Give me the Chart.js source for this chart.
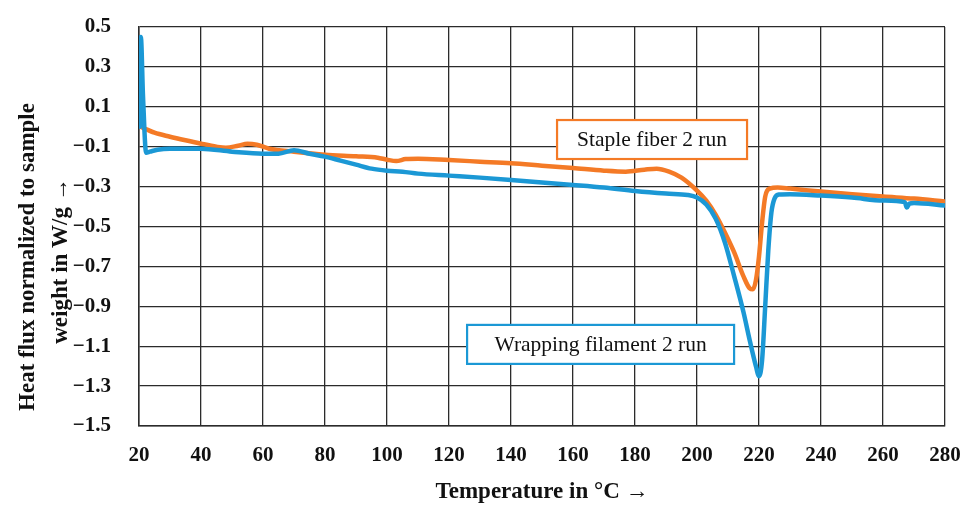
<!DOCTYPE html>
<html>
<head>
<meta charset="utf-8">
<script src="https://cdn.jsdelivr.net/npm/chart.js@4.4.1/dist/chart.umd.min.js"></script>
<style>
  html, body { margin: 0; padding: 0; background: #fff; }
  #wrap { width: 970px; height: 507px; position: relative; }
</style>
</head>
<body>
<div id="wrap"><canvas id="dscChart"></canvas></div>
<script>
// DSC second heating run, heat flux in W/g over temperature in °C
const tempWrapping = [20.3, 20.6, 21.3, 22.3, 23.5, 26, 30, 40, 50, 60, 65, 70, 75, 80, 85, 90, 95, 100, 105, 110,
  120, 130, 140, 150, 160, 170, 180, 190, 197, 200, 203, 206, 209, 212, 215, 217, 219, 220, 221, 222, 223, 224,
  225, 226.5, 230, 240, 250, 260, 267, 267.7, 268.5, 270, 280];
const fluxWrapping = [0.0, 0.45, 0.15, -0.13, -0.125, -0.115, -0.11, -0.11, -0.125, -0.135, -0.135, -0.118, -0.135,
  -0.15, -0.17, -0.19, -0.21, -0.22, -0.225, -0.235, -0.245, -0.255, -0.267, -0.28, -0.292, -0.305, -0.322, -0.335,
  -0.342, -0.355, -0.39, -0.46, -0.58, -0.75, -0.93, -1.07, -1.2, -1.25, -1.17, -0.9, -0.62, -0.43, -0.36, -0.34,
  -0.338, -0.345, -0.355, -0.37, -0.378, -0.405, -0.385, -0.382, -0.395];

const tempStaple = [20.5, 22, 25, 30, 35, 40, 45, 48, 52, 55, 58, 62, 70, 80, 90, 97, 100, 103, 106, 110, 120, 130,
  140, 150, 160, 170, 177, 183, 187, 191, 195, 200, 203, 206, 209, 212, 215, 217, 218, 219, 220, 221, 222, 223.5,
  226, 230, 240, 250, 260, 270, 280];
const fluxStaple = [0.0, -0.01, -0.03, -0.05, -0.068, -0.085, -0.1, -0.105, -0.095, -0.085, -0.09, -0.11, -0.125,
  -0.14, -0.148, -0.155, -0.165, -0.172, -0.162, -0.16, -0.167, -0.175, -0.183, -0.195, -0.207, -0.22, -0.225,
  -0.215, -0.21, -0.225, -0.255, -0.32, -0.37, -0.44, -0.53, -0.63, -0.75, -0.81, -0.815, -0.77, -0.65, -0.48,
  -0.35, -0.31, -0.305, -0.31, -0.325, -0.338, -0.35, -0.36, -0.375];

const seriesNames = ['Wrapping filament 2 run', 'Staple fiber 2 run'];
const seriesColors = ['#1b98d5', '#f47a26'];

const BLUE = seriesColors[0];
const ORANGE = seriesColors[1];
const FONT = "'Liberation Serif', 'Times New Roman', serif";
const GRID = '#2b2b2b';

const toPoints = (xs, ys) => xs.map((x, i) => ({ x: x, y: ys[i] }));

// labelled boxes next to the curves, placed in data coordinates
const curveLabels = {
  id: 'curveLabels',
  afterDatasetsDraw(chart) {
    const { ctx, scales: { x, y } } = chart;
    const boxes = [
      { text: seriesNames[1], color: ORANGE, t: 185.5, v: -0.064, w: 190 },
      { text: seriesNames[0], color: BLUE, t: 168.9, v: -1.091, w: 267 }
    ];
    ctx.save();
    ctx.font = "21.5px " + FONT;
    ctx.textBaseline = 'middle';
    ctx.textAlign = 'center';
    boxes.forEach(b => {
      const cx = x.getPixelForValue(b.t);
      const cy = y.getPixelForValue(b.v);
      const h = 39;
      ctx.fillStyle = '#fff';
      ctx.fillRect(cx - b.w / 2, cy - h / 2, b.w, h);
      ctx.lineWidth = 2.2;
      ctx.strokeStyle = b.color;
      ctx.strokeRect(cx - b.w / 2, cy - h / 2, b.w, h);
      ctx.fillStyle = '#111';
      ctx.fillText(b.text, cx, cy + 1);
    });
    ctx.restore();
  }
};

// two-line rotated y axis title
const yTitle = {
  id: 'yTitle',
  afterDraw(chart) {
    const ctx = chart.ctx;
    const lines = [
      { text: 'Heat flux normalized to sample', x: 28, y: 257 },
      { text: 'weight in W/g \u2192', x: 61, y: 261 }
    ];
    lines.forEach(l => {
      ctx.save();
      ctx.font = "bold 23px " + FONT;
      ctx.fillStyle = '#111';
      ctx.textAlign = 'center';
      ctx.textBaseline = 'middle';
      ctx.translate(l.x, l.y);
      ctx.rotate(-Math.PI / 2);
      ctx.fillText(l.text, 0, 0);
      ctx.restore();
    });
  }
};

new Chart(document.getElementById('dscChart'), {
  type: 'line',
  data: {
    datasets: [
      {
        label: seriesNames[0],
        data: toPoints(tempWrapping, fluxWrapping),
        borderColor: BLUE,
        borderWidth: 4.5,
        pointRadius: 0,
        cubicInterpolationMode: 'monotone',
        borderCapStyle: 'round',
        borderJoinStyle: 'round',
        order: 1
      },
      {
        label: seriesNames[1],
        data: toPoints(tempStaple, fluxStaple),
        borderColor: ORANGE,
        borderWidth: 4.5,
        pointRadius: 0,
        cubicInterpolationMode: 'monotone',
        borderCapStyle: 'round',
        borderJoinStyle: 'round',
        order: 2
      }
    ]
  },
  options: {
    responsive: true,
    maintainAspectRatio: false,
    animation: false,
    layout: { padding: { top: 27, right: 25, left: 0, bottom: 0 } },
    plugins: {
      legend: { display: false },
      tooltip: { enabled: false }
    },
    scales: {
      x: {
        type: 'linear',
        min: 20,
        max: 280,
        ticks: {
          stepSize: 20,
          color: '#111',
          padding: 0,
          maxRotation: 0,
          font: { family: FONT, size: 21, weight: 'bold' }
        },
        // invisible tick marks keep the labels clear of the plot
        grid: { color: GRID, lineWidth: 1.3, tickLength: 17, tickColor: 'rgba(0,0,0,0)' },
        border: { color: GRID, width: 1.5 },
        title: {
          display: true,
          text: 'Temperature in \u00b0C \u2192',
          color: '#111',
          padding: { top: 0, bottom: 1 },
          font: { family: FONT, size: 23, weight: 'bold' }
        },
        afterFit: scale => { scale.height = 81; }
      },
      y: {
        min: -1.5,
        max: 0.5,
        ticks: {
          stepSize: 0.2,
          color: '#111',
          padding: 0,
          font: { family: FONT, size: 21, weight: 'bold' },
          callback: v => v.toFixed(1).replace('-', '\u2212')
        },
        grid: { color: GRID, lineWidth: 1.3, tickLength: 28, tickColor: 'rgba(0,0,0,0)' },
        border: { color: GRID, width: 1.5 },
        afterFit: scale => { scale.width = 139; }
      }
    }
  },
  plugins: [curveLabels, yTitle]
});
</script>
</body>
</html>
